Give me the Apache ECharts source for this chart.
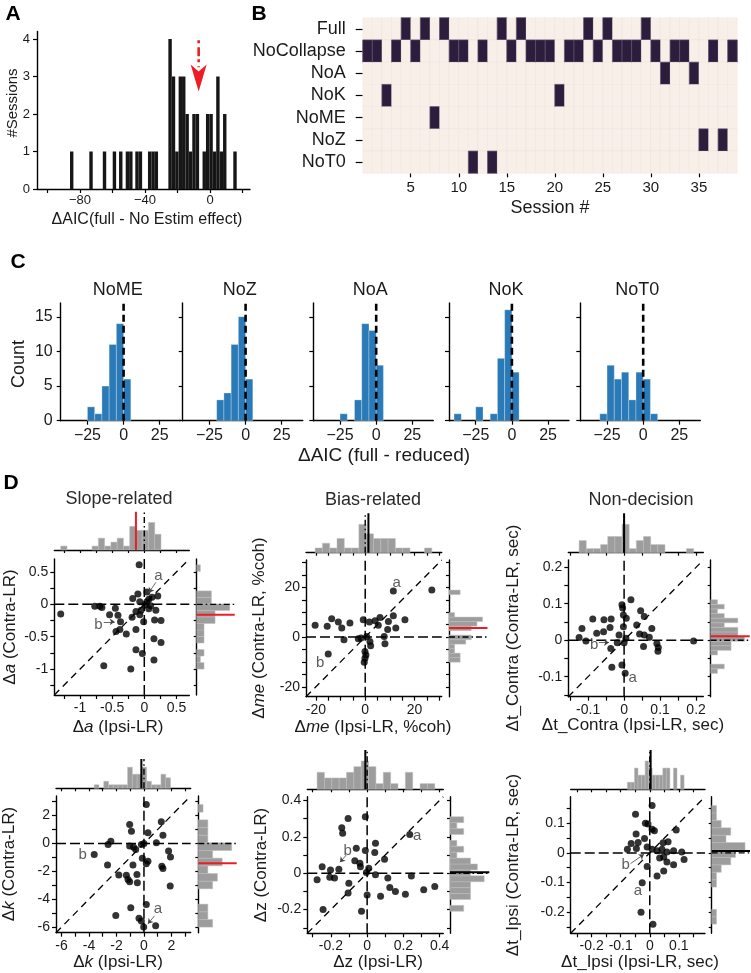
<!DOCTYPE html>
<html><head><meta charset="utf-8">
<script src="https://cdn.jsdelivr.net/npm/echarts@6/dist/echarts.min.js"></script>
<style>html,body{margin:0;padding:0;background:#fff}#c{width:751px;height:973px}</style>
</head><body><div id="c"></div>
<script>
const FONT = '"Liberation Sans", Arial, Helvetica, sans-serif';

// ---------------- Panel A data ----------------
const aBinStart = [-86.2,-74.3,-66.0,-59.9,-56.0,-51.9,-49.8,-46.0,-43.9,-38.2,-36.1,-34.1,
  -25.64,-23.54,-21.44,-19.33,-17.23,-15.13,-13.02,-10.92,-8.82,-4.61,-2.51,-0.40,1.70,3.80,5.91,8.01,14.32];
const aCounts = [1,1,1,1,1,1,1,1,1,1,1,1, 4,3,1,3,3,2,1,2,2,1,2,2,1,3,1,2,1];
const aBinWidth = 2.1;
const aXTicks = [-100,-80,-60,-40,-20,0,20];
const aXLabels = [-80,-40,0];
const aYTicks = [0,1,2,3,4];
const aMeanX = -7;
const aArrowShaft = [[-7, 3.97], [-7, 3.25]];
const aArrowTip = [-7, 2.6];

// ---------------- Panel B data ----------------
const bModels = ['Full','NoCollapse','NoA','NoK','NoME','NoZ','NoT0'];
const bBest = [1,1,3,1,0,1,0,4,0,1,1,6,1,6,0,1,0,1,1,1,3,1,1,0,1,0,1,1,1,0,1,2,1,1,2,5,1,5,1];
const bSessionTicks = [5,10,15,20,25,30,35];

// ---------------- Panel C data ----------------
const cModels = ['NoME','NoZ','NoA','NoK','NoT0'];
const cBinStart = [-40,-35,-30,-25,-20,-15,-10,-5,0,5];
const cBinWidth = 5;
const cNoME = [0,0,0,2,1,5,11,14,6,0];
const cNoZ  = [0,0,0,0,3,4,11,15,6,0];
const cNoA  = [0,0,0,1,0,3,14,13,8,0];
const cNoK  = [1,0,0,2,0,1,9,16,7,0];
const cNoT0 = [0,0,1,8,6,7,3,7,6,1];
const cXTicks = [-25,0,25];
const cYTicks = [0,5,10,15];

// ---------------- Panel D data ----------------
const dSlope = [[-1.30,-0.15],[-0.77,-0.03],[-0.69,-0.03],[-0.66,-0.05],[-0.45,-0.06],[-0.54,-0.16],[-0.41,-0.17],[-0.37,-0.27],[-0.44,-0.42],[-0.38,-0.39],[-0.28,-0.46],[-0.18,0.09],[-0.10,0.16],[-0.08,0.61],[-0.13,-0.11],[-0.19,-0.20],[-0.13,-0.39],[-0.07,0.04],[-0.05,-0.09],[-0.07,-0.16],[-0.01,-0.27],[0.01,-0.01],[0.04,0.04],[0.07,0.08],[0.04,0.19],[0.12,0.11],[0.21,0.13],[0.10,-0.02],[0.18,-0.09],[0.16,-0.24],[0.26,-0.25],[0.15,-0.53],[0.26,-0.59],[-0.13,-0.70],[-0.03,-0.76],[0.15,-0.86],[-0.63,-0.95],[-0.21,-1.00],[0.07,-0.07]];
const dBias = [[11.4,18.5],[27,18.9],[-20.3,4.7],[-15.4,4.3],[-13.6,7.4],[-10.9,6.1],[-9.5,3.6],[-6.2,5.7],[-0.8,7.0],[1.7,6.1],[4.0,6.6],[6.0,7.9],[11.4,8.6],[9.4,6.3],[16.1,7.0],[5.3,4.7],[12.4,3.6],[9.1,3.0],[-8.6,-1.1],[-2.8,-0.7],[-1.7,-0.4],[0.6,0.2],[1.9,-1.8],[2.2,-3.5],[-0.1,-5.8],[0.3,-7.2],[-0.1,-8.5],[-0.4,-10.1],[-15,-6.8],[8.0,-2.7],[7.7,0.2]];
const dNonDecContra = [[0.019,0.111],[-0.006,0.097],[-0.004,0.088],[-0.087,0.058],[-0.056,0.056],[-0.036,0.058],[-0.002,0.069],[0.006,0.060],[0.046,0.081],[0.056,0.065],[-0.117,0.032],[-0.039,0.035],[-0.002,0.037],[0.035,0.042],[0.077,0.032],[-0.125,0.0075],[-0.106,-0.002],[-0.076,0.019],[-0.057,0.023],[-0.037,-0.023],[-0.019,-0.007],[-0.014,0.014],[0,-0.007],[0.005,0.005],[0.043,0.017],[0.056,0.014],[0.07,0.008],[0.054,-0.017],[0.091,-0.009],[0.095,-0.020],[0.094,-0.03],[0.193,-0.002],[-0.034,-0.074],[-0.006,-0.068],[0.003,-0.091]];
const dK = [[0.17,2.79],[-1.04,1.36],[-0.91,0.88],[1.26,1.55],[1.38,0.59],[0.29,0.76],[-2.61,-0.07],[-2.41,0.16],[-1.04,-0.19],[-0.75,-0.27],[-0.6,-0.43],[-0.19,-0.07],[0,0],[0.9,0.04],[1.79,-0.55],[1.93,-0.98],[-3.62,-0.79],[-2.65,-1.55],[-0.8,-1.55],[-0.12,-1.07],[0.17,-1.46],[0.29,-1.27],[1.3,-1.63],[1.38,-1.79],[-1.83,-2.27],[-1.28,-2.29],[-1.16,-2.58],[-1.04,-2.75],[-0.51,-2.22],[-0.48,-2.82],[1.91,-3.06],[-0.96,-4.61],[0.17,-4.37],[-2.05,-5.16],[-0.36,-5.37],[-0.19,-5.57],[-0.02,-6.0],[0.85,-5.9]];
const dZ = [[-0.01,0.31],[-0.105,0.30],[-0.14,0.25],[-0.135,0.22],[0.235,0.213],[-0.01,0.124],[-0.06,0.137],[0.046,0.164],[0.042,0.113],[0.096,0.077],[-0.068,0.069],[-0.04,0.055],[-0.037,0.036],[0.009,0.027],[-0.004,0.004],[-0.248,0.036],[-0.202,0.018],[-0.156,0.022],[-0.206,-0.022],[-0.18,-0.027],[-0.276,-0.036],[0.046,-0.009],[0.114,-0.027],[0.244,-0.015],[-0.101,-0.055],[-0.105,-0.109],[0,-0.12],[0.074,-0.127],[0.125,-0.078],[0.156,-0.1],[0.211,-0.115],[0.312,-0.091],[0.373,-0.073],[-0.243,-0.2],[-0.031,-0.209]];
const dNonDecIpsi = [[0.008,0.16],[-0.049,0.131],[-0.015,0.1],[-0.006,0.098],[0.008,0.08],[0.016,0.075],[0.091,0.077],[-0.047,0.064],[-0.018,0.049],[-0.04,0.035],[-0.064,0.032],[0.046,0.034],[0.063,0.038],[-0.077,0.0125],[-0.046,0.015],[-0.009,0.02],[0.008,0.0125],[0.025,0.007],[0.042,0.0125],[0.059,0.003],[0.082,0.007],[0.11,0.003],[0.118,-0.022],[0.034,-0.017],[0.048,-0.014],[0.059,-0.031],[0.082,-0.04],[-0.009,-0.046],[0.025,-0.078],[-0.026,-0.101],[0.048,-0.061],[-0.03,-0.201],[0.011,-0.241]];
const dPoints = [dSlope, dBias, dNonDecContra, dK, dZ, dNonDecIpsi];
const dRange = [[-1.4,0.7],[-24,31],[-0.155,0.22],[-6.4,3.4],[-0.33,0.42],[-0.272,0.19]];
const dTicks = [
  [-1.25,-1,-0.75,-0.5,-0.25,0,0.25,0.5],
  [-20,-15,-10,-5,0,5,10,15,20,25,30],
  [-0.15,-0.1,-0.05,0,0.05,0.1,0.15,0.2],
  [-6,-5,-4,-3,-2,-1,0,1,2,3],
  [-0.3,-0.2,-0.1,0,0.1,0.2,0.3,0.4],
  [-0.25,-0.2,-0.15,-0.1,-0.05,0,0.05,0.1,0.15]];
const dTickLabels = [[-1,-0.5,0,0.5],[-20,0,20],[-0.1,0,0.1,0.2],[-6,-4,-2,0,2],[-0.2,0,0.2,0.4],[-0.2,-0.1,0,0.1]];
const dMeanX = [-0.13, 1.3, 0.0, -0.19, -0.01, 0.003];
const dMeanY = [-0.16, 3.6, 0.011, -1.43, 0.005, 0.006];
const dMeanXSig = [true,false,false,false,false,false];
const dMeanYSig = [true,true,true,true,false,false];
const dLetterA = [[0.22,0.44],[12.8,21.9],[0.024,-0.104],[1.01,-4.68],[0.276,0.204],[-0.041,-0.127]];
const dLetterB = [[-0.715,-0.31],[-18.3,-10.5],[-0.083,-0.012],[-4.46,-0.84],[-0.107,0.124],[-0.083,-0.042]];
const dArrows = [
  [[[0.18,0.34],[0.07,0.18]], [[-0.63,-0.27],[-0.46,-0.27]]],
  [],
  [[[-0.07,-0.007],[-0.042,-0.006]]],
  [[[0.76,-5.2],[0.29,-5.76]]],
  [[[-0.115,0.1],[-0.15,0.06]]],
  [[[-0.066,-0.036],[-0.02,-0.005]]]];
const dTitles = ['Slope-related','Bias-related','Non-decision'];
const dHistBins = 16;

// ---------------- layout / style ----------------
const RED = '#ee1c25';
const grid=[], xAxis=[], yAxis=[], series=[], graphic=[];
function addCart(box, xa, ya){
  grid.push({left:box[0], top:box[1], width:box[2], height:box[3], containLabel:false});
  const gi = grid.length-1;
  xa.gridIndex = gi; ya.gridIndex = gi;
  xAxis.push(xa); yAxis.push(ya);
  return {xAxisIndex:xAxis.length-1, yAxisIndex:yAxis.length-1};
}
function valAxis(o){
  const ax = {type:'value', min:o.min, max:o.max, inverse:!!o.inverse, show:o.show!==false,
    splitLine:{show:false},
    axisLine:{show:o.line!==false, onZero:false, lineStyle:{color:'#000', width:1.4}},
    axisTick:{show:!!o.ticks, length:o.tickLen||4, lineStyle:{color:'#000', width:1.2}},
    axisLabel:{show:!!o.labels, color:'#1a1a1a', fontSize:o.labelSize||14, fontFamily:FONT, margin:o.margin==null?6:o.margin}};
  if (o.ticks) ax.axisTick.customValues = o.ticks;
  if (o.labels) ax.axisLabel.customValues = o.labels;
  if (o.fmt) ax.axisLabel.formatter = o.fmt;
  return ax;
}
const minusFmt = v => v < 0 ? '\u2212' + Math.abs(v) : String(v);
function vBar(fill, stroke, lw){
  return function(params, api){
    const a = api.coord([api.value(0), 0]);
    const b = api.coord([api.value(1), api.value(2)]);
    return {type:'rect', shape:{x:a[0], y:b[1], width:b[0]-a[0], height:a[1]-b[1]},
      style:{fill:fill, stroke:stroke||null, lineWidth:stroke?lw:0}};
  };
}
function hBar(fill, stroke, lw){
  return function(params, api){
    const a = api.coord([0, api.value(0)]);
    const b = api.coord([api.value(2), api.value(1)]);
    return {type:'rect', shape:{x:a[0], y:b[1], width:b[0]-a[0], height:a[1]-b[1]},
      style:{fill:fill, stroke:stroke||null, lineWidth:stroke?lw:0}};
  };
}
function seg(ax, pts, color, width, type, z){
  series.push(Object.assign({type:'line', data:pts, symbol:'none', silent:true, clip:false,
    lineStyle:{color:color, width:width, type:type||'solid'}, z:z||3}, ax));
}
function txt(x, y, text, size, extra){
  const el = {type:'text', x:x, y:y, silent:true, z:100,
    style:{text:text, fontSize:size, fontFamily:FONT, fill:'#1a1a1a', textAlign:'center', textVerticalAlign:'middle', align:'center', verticalAlign:'middle'}};
  if (extra) { if (extra.style) Object.assign(el.style, extra.style); if (extra.rotation) el.rotation = extra.rotation; }
  graphic.push(el);
}
function histogram(vals, n){
  const lo = Math.min.apply(null, vals), hi = Math.max.apply(null, vals);
  const w = (hi - lo) / n, c = new Array(n).fill(0);
  vals.forEach(v => { let k = Math.floor((v - lo) / w); if (k >= n) k = n - 1; if (k < 0) k = 0; c[k]++; });
  return c.map((cnt, k) => [lo + k*w, lo + (k+1)*w, cnt]).filter(d => d[2] > 0);
}

// ---------------- Panel A ----------------
const A = addCart([37, 31.5, 213, 157.5],
  valAxis({min:-106.5, max:24.6, ticks:aXTicks, labels:aXLabels, fmt:minusFmt, labelSize:13, margin:5}),
  valAxis({min:0, max:4.2, ticks:aYTicks, labels:aYTicks, labelSize:13, margin:7}));
series.push(Object.assign({type:'custom', renderItem:vBar('#161616'), encode:{x:[0,1], y:2},
  data:aBinStart.map((s,i)=>[s, s+aBinWidth, aCounts[i]]), z:2}, A));
seg(A, aArrowShaft, RED, 2.6, [3,4,9,3], 6);
series.push(Object.assign({type:'custom', encode:{x:0, y:1}, data:[aArrowTip], z:6, silent:true,
  renderItem:function(params, api){
    const t = api.coord([api.value(0), api.value(1)]);
    return {type:'polygon', shape:{points:[[t[0], t[1]], [t[0]-8, t[1]-27], [t[0], t[1]-20], [t[0]+8, t[1]-27]]},
      style:{fill:RED}};
  }}, A));
txt(13, 14, 'A', 21, {style:{fontWeight:'bold', fill:'#000'}});
txt(147, 220, 'ΔAIC(full - No Estim effect)', 16);
txt(13, 103, '#Sessions', 15, {rotation:Math.PI/2});

// ---------------- Panel B ----------------
const bRowTicks = bModels.map((m,i)=>i+0.5);
const B = addCart([362.7, 17.7, 374.6, 155.6],
  valAxis({min:0, max:39, line:false, ticks:bSessionTicks, labels:bSessionTicks, labelSize:15, margin:7, tickLen:4}),
  valAxis({min:0, max:7, inverse:true, line:false, ticks:bRowTicks, labels:bRowTicks, fmt:v=>bModels[Math.round(v-0.5)], labelSize:18, margin:17, tickLen:7}));
const bCells = [];
bBest.forEach((best, i) => bModels.forEach((m, r) => bCells.push([i, r, best === r ? 1 : 0])));
series.push(Object.assign({type:'custom', encode:{x:0, y:1}, data:bCells, z:2,
  renderItem:function(params, api){
    const i = api.value(0), r = api.value(1), on = api.value(2);
    const p0 = api.coord([i, r]), p1 = api.coord([i+1, r+1]);
    return {type:'rect', shape:{x:Math.min(p0[0],p1[0]), y:Math.min(p0[1],p1[1]), width:Math.abs(p1[0]-p0[0]), height:Math.abs(p1[1]-p0[1])},
      style:{fill: on ? '#2d1d3d' : '#f9efe9', stroke: on ? '#5e4d6c' : 'rgba(200,180,170,0.18)', lineWidth: on ? 0.7 : 0.5}};
  }}, B));
txt(259, 14, 'B', 21, {style:{fontWeight:'bold', fill:'#000'}});
txt(550, 208, 'Session #', 18);

// ---------------- Panel C ----------------
const cCounts = [cNoME, cNoZ, cNoA, cNoK, cNoT0];
const cLefts = [60.7, 182.7, 313.3, 449, 580.3];
cModels.forEach((m, k) => {
  const C = addCart([cLefts[k], 302.9, 120, 117.8],
    valAxis({min:-43.5, max:39.5, ticks:cXTicks, labels:cXTicks, fmt:minusFmt, labelSize:16, margin:7}),
    valAxis({min:0, max:17, ticks:cYTicks, labels:k===0?cYTicks:null, labelSize:16, margin:8}));
  series.push(Object.assign({type:'custom', renderItem:vBar('#2a7ab8', 'rgba(255,255,255,0.35)', 0.8), encode:{x:[0,1], y:2},
    data:cBinStart.map((s,i)=>[s, s+cBinWidth, cCounts[k][i]]).filter(d=>d[2]>0), z:2}, C));
  seg(C, [[0,0],[0,17]], '#000', 2.6, [7,4], 4);
  txt(cLefts[k] + 57, 290, m, 18);
});
txt(18, 262, 'C', 21, {style:{fontWeight:'bold', fill:'#000'}});
txt(384, 456, 'ΔAIC (full - reduced)', 19);
txt(19, 364, 'Count', 18, {rotation:Math.PI/2});

// ---------------- Panel D ----------------
const dLayout = [
  {s:[54.3,559,135,136],      t:[511.7,38.3], r:[196.7,38]},
  {s:[306,560,135.7,136.7],   t:[513.3,39.4], r:[449,38.5]},
  {s:[568.3,560,135,136.7],   t:[513.3,39.4], r:[710.7,39]},
  {s:[56,796,134.7,136.7],    t:[759,29.3],   r:[198.3,38.4]},
  {s:[307.3,796.7,136,136.6], t:[750,39.3],   r:[450,39.3]},
  {s:[570.7,796.7,134.3,136.6], t:[750,39.3], r:[711.7,38.3]}];
dPoints.forEach((pts, k) => {
  const L = dLayout[k], rg = dRange[k];
  const S = addCart(L.s,
    valAxis({min:rg[0], max:rg[1], ticks:dTicks[k], labels:dTickLabels[k], labelSize:14, margin:6, tickLen:4}),
    valAxis({min:rg[0], max:rg[1], ticks:dTicks[k], labels:dTickLabels[k], labelSize:14, margin:6, tickLen:4}));
  seg(S, [[rg[0],rg[0]],[rg[1],rg[1]]], '#000', 1.3, [7,5], 3);
  seg(S, [[0,rg[0]],[0,rg[1]]], '#000', 1.5, [10,4], 3);
  seg(S, [[rg[0],0],[rg[1],0]], '#000', 1.5, [10,4], 3);
  series.push(Object.assign({type:'scatter', data:pts, symbol:'circle', symbolSize:7, silent:true,
    itemStyle:{color:'#000'}, z:5}, S));
  series.push(Object.assign({type:'scatter', symbolSize:0.1, silent:true, z:6,
    data:[{value:dLetterA[k], name:'a'}, {value:dLetterB[k], name:'b'}],
    label:{show:true, position:'inside', formatter:'{b}', color:'#333', fontSize:15, fontFamily:FONT}}, S));
  if (dArrows[k].length) series.push(Object.assign({type:'lines', coordinateSystem:'cartesian2d', silent:true, z:6,
    data:dArrows[k].map(c=>({coords:c})), symbol:['none','arrow'], symbolSize:5,
    lineStyle:{color:'#444', width:0.8, opacity:1}}, S));
  const hx = histogram(pts.map(p=>p[0]), dHistBins);
  const topMax = Math.max.apply(null, hx.map(d=>d[2])) / 0.72;
  const T = addCart([L.s[0], L.t[0], L.s[2], L.t[1]],
    valAxis({min:rg[0], max:rg[1], ticks:dTicks[k], labels:null, tickLen:3}),
    valAxis({min:0, max:topMax, show:false}));
  series.push(Object.assign({type:'custom', renderItem:vBar('#9d9d9d', '#bdbdbd', 0.5), encode:{x:[0,1], y:2}, data:hx, z:2}, T));
  seg(T, [[0,0],[0,topMax]], '#000', 1.4, [6,3,1.5,3], 3);
  seg(T, [[dMeanX[k],0],[dMeanX[k],topMax]], dMeanXSig[k] ? RED : '#000', 2, 'solid', 4);
  const hy = histogram(pts.map(p=>p[1]), dHistBins);
  const rMax = Math.max.apply(null, hy.map(d=>d[2])) / 0.87;
  const R = addCart([L.r[0], L.s[1], L.r[1], L.s[3]],
    valAxis({min:0, max:rMax, show:false}),
    valAxis({min:rg[0], max:rg[1], ticks:dTicks[k], labels:null, tickLen:3}));
  series.push(Object.assign({type:'custom', renderItem:hBar('#9d9d9d', '#bdbdbd', 0.5), encode:{x:2, y:[0,1]}, data:hy, z:2}, R));
  seg(R, [[0,0],[rMax,0]], '#000', 1.4, [6,3,1.5,3], 3);
  seg(R, [[0,dMeanY[k]],[rMax,dMeanY[k]]], dMeanYSig[k] ? RED : '#000', 2, 'solid', 4);
});
txt(11, 483, 'D', 21, {style:{fontWeight:'bold', fill:'#000'}});
txt(119, 499, dTitles[0], 18, {style:{fill:'#2a2a2a'}});
txt(373, 500, dTitles[1], 18, {style:{fill:'#2a2a2a'}});
txt(641, 500, dTitles[2], 18, {style:{fill:'#2a2a2a'}});
const rs = {n:{fontSize:17, fontFamily:FONT, fill:'#1a1a1a'}, i:{fontSize:17, fontFamily:FONT, fill:'#1a1a1a', fontStyle:'italic'}};
function rtxt(x, y, text, rot){
  const el = {type:'text', x:x, y:y, silent:true, z:100,
    style:{text:text, rich:rs, fontSize:17, fontFamily:FONT, fill:'#1a1a1a', textAlign:'center', textVerticalAlign:'middle', align:'center', verticalAlign:'middle'}};
  if (rot) el.rotation = Math.PI/2;
  graphic.push(el);
}
rtxt(118, 727, '{n|Δ}{i|a}{n| (Ipsi-LR)}');
rtxt(10, 627, '{n|Δ}{i|a}{n| (Contra-LR)}', true);
rtxt(373, 727, '{n|Δ}{i|me}{n| (Ipsi-LR, %coh)}');
rtxt(259, 628, '{n|Δ}{i|me}{n| (Contra-LR, %coh)}', true);
rtxt(633, 725, '{n|Δt_Contra (Ipsi-LR, sec)}');
rtxt(513, 628, '{n|Δt_Contra (Contra-LR, sec)}', true);
rtxt(118, 962, '{n|Δ}{i|k}{n| (Ipsi-LR)}');
rtxt(9, 864, '{n|Δ}{i|k}{n| (Contra-LR)}', true);
rtxt(378, 962, '{n|Δz (Ipsi-LR)}');
rtxt(261, 865, '{n|Δz (Contra-LR)}', true);
rtxt(640, 962, '{n|Δt_Ipsi (Ipsi-LR, sec)}');
rtxt(513, 865, '{n|Δt_Ipsi (Contra-LR, sec)}', true);

const chart = echarts.init(document.getElementById('c'), null, {renderer:'canvas'});
chart.setOption({animation:false, backgroundColor:'#fff', textStyle:{fontFamily:FONT},
  grid:grid, xAxis:xAxis, yAxis:yAxis, series:series, graphic:graphic});
</script></body></html>
